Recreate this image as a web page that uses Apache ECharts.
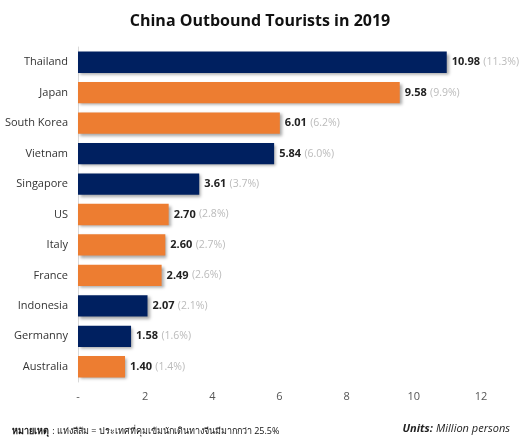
<!DOCTYPE html>
<html><head><meta charset="utf-8">
<script src="https://cdn.jsdelivr.net/npm/echarts@6/dist/echarts.min.js"></script>
<style>html,body{margin:0;padding:0;background:#fff}#c{width:520px;height:439px}</style>
</head><body><div id="c"></div>
<script>
var countries = ["Thailand","Japan","South Korea","Vietnam","Singapore","US","Italy","France","Indonesia","Germanny","Australia"];
var tourists = [10.98, 9.58, 6.01, 5.84, 3.61, 2.70, 2.60, 2.49, 2.07, 1.58, 1.40];
var shares = [11.3, 9.9, 6.2, 6.0, 3.7, 2.8, 2.7, 2.6, 2.1, 1.6, 1.4];
var isOrange = [false, true, true, false, false, true, true, true, false, false, true];
var NAVY = '#002060', ORANGE = '#ED7D31';
var FONT = '"Open Sans", "Noto Sans", sans-serif';

var chart = echarts.init(document.getElementById('c'));
chart.setOption({
  animation: false,
  title: {
    text: 'China Outbound Tourists in 2019',
    left: 'center', top: 8,
    textStyle: {fontFamily: FONT, fontSize: 16, fontWeight: 'bold', color: '#111'}
  },
  graphic: [
    {type: 'text', left: 12, top: 425, style: {
      rich: {b: {fontWeight: 'bold', fontSize: 9, fontFamily: FONT, fill: '#111'}, n: {fontSize: 9, fontFamily: FONT, fill: '#111'}},
      text: '{b|หมายเหตุ} {n|: แท่งสีส้ม = ประเทศที่คุมเข้มนักเดินทางจีนมีมากกว่า 25.5%}'
    }},
    {type: 'text', right: 10, top: 423, style: {
      rich: {b: {fontWeight: 'bold', fontStyle: 'italic', fontSize: 11, fontFamily: FONT, fill: '#222'}, n: {fontStyle: 'italic', fontSize: 11, fontFamily: FONT, fill: '#222'}},
      text: '{b|Units:} {n|Million persons}'
    }}
  ],
  grid: {left: 78, right: 39, top: 47, bottom: 57, containLabel: false},
  xAxis: {
    type: 'value', min: 0, max: 12, interval: 2,
    axisLine: {show: false}, axisTick: {show: false}, splitLine: {show: false},
    axisLabel: {fontFamily: FONT, fontSize: 11, color: '#555', margin: 9,
      formatter: function (v) { return v === 0 ? '-' : String(v); }}
  },
  yAxis: {
    type: 'category', data: countries, inverse: true,
    axisLine: {show: true, lineStyle: {color: '#d9d9d9'}}, axisTick: {show: false},
    axisLabel: {fontFamily: FONT, fontSize: 11, color: '#333', margin: 10}
  },
  series: [{
    type: 'bar',
    barCategoryGap: '30%',
    data: tourists.map(function (v, i) {
      return {value: v, itemStyle: {color: isOrange[i] ? ORANGE : NAVY}};
    }),
    itemStyle: {shadowColor: 'rgba(0,0,0,0.35)', shadowBlur: 3, shadowOffsetX: 2, shadowOffsetY: 2},
    label: {
      show: true, position: 'right', distance: 5,
      formatter: function (p) { return '{v|' + tourists[p.dataIndex].toFixed(2) + '} {p|(' + shares[p.dataIndex].toFixed(1) + '%)}'; },
      rich: {
        v: {fontFamily: FONT, fontSize: 11, fontWeight: 'bold', color: '#222'},
        p: {fontFamily: FONT, fontSize: 10.5, color: '#bbb'}
      }
    }
  }]
});
</script></body></html>
